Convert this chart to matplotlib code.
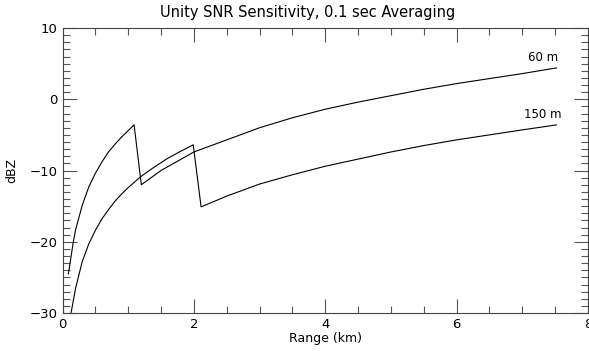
import matplotlib
matplotlib.use("Agg")
import matplotlib.pyplot as plt
from matplotlib.ticker import MultipleLocator

# 60 m resolution curve (range km, dBZ)
r60 = [0.09, 0.165, 0.2, 0.3, 0.4, 0.5, 0.6, 0.7, 0.8, 0.9, 1.0, 1.09,
       1.2, 1.5, 2.0, 2.5, 3.0, 3.5, 4.0, 4.5, 5.0, 5.5, 6.0, 6.5, 7.0, 7.52]
z60 = [-24.5, -20.0, -18.3, -14.9, -12.3, -10.4, -8.8, -7.4, -6.3, -5.3, -4.4, -3.6,
       -12.0, -10.0, -7.4, -5.7, -4.0, -2.6, -1.4, -0.4, 0.5, 1.4, 2.2, 2.9, 3.6, 4.4]

# 150 m resolution curve
r150 = [0.13, 0.2, 0.3, 0.4, 0.5, 0.6, 0.7, 0.8, 0.9, 1.0, 1.2, 1.4, 1.6, 1.8, 1.99,
        2.11, 2.5, 3.0, 3.5, 4.0, 4.5, 5.0, 5.5, 6.0, 6.5, 7.0, 7.52]
z150 = [-30.0, -26.5, -22.8, -20.3, -18.4, -16.8, -15.5, -14.3, -13.3, -12.4, -10.8,
        -9.5, -8.3, -7.3, -6.4,
        -15.1, -13.6, -11.9, -10.6, -9.4, -8.4, -7.4, -6.5, -5.7, -5.0, -4.3, -3.6]

labels = ["60 m", "150 m"]
title = "Unity SNR Sensitivity, 0.1 sec Averaging"
xlabel = "Range (km)"
ylabel = "dBZ"

fig = plt.figure(figsize=(5.89, 3.51), dpi=100)
ax = fig.add_axes([62.5 / 589, 1 - 313 / 351, (588 - 62.5) / 589, (313 - 28) / 351])

ax.plot(r60, z60, color="black", lw=0.8)
ax.plot(r150, z150, color="black", lw=0.8)

ax.text(r60[-1] + 0.03, z60[-1] + 0.6, labels[0], ha="right", va="bottom", fontsize=8.5)
ax.text(r150[-1] + 0.08, z150[-1] + 0.5, labels[1], ha="right", va="bottom", fontsize=8.5)

ax.set_xlim(0, 8)
ax.set_ylim(-30, 10)
ax.xaxis.set_major_locator(MultipleLocator(2))
ax.xaxis.set_minor_locator(MultipleLocator(0.5))
ax.yaxis.set_major_locator(MultipleLocator(10))
ax.yaxis.set_minor_locator(MultipleLocator(1))
ax.tick_params(which="both", direction="in", top=True, right=True, color="#555555",
               width=0.8, labelsize=9.5)
ax.tick_params(which="major", length=10)
ax.tick_params(which="minor", length=5)
for s in ax.spines.values():
    s.set_linewidth(0.8)
    s.set_color("#444444")

fig.text(308 / 589, 1 - 13 / 351, title, fontsize=10.5, ha="center", va="center")
ax.set_xlabel(xlabel, fontsize=9, labelpad=1)
ax.set_ylabel(ylabel, fontsize=9, labelpad=8)

fig.savefig("out.png", dpi=100)
